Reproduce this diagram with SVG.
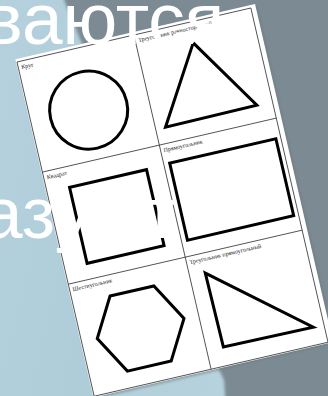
<svg xmlns="http://www.w3.org/2000/svg" width="328" height="396" viewBox="0 0 328 396">
<defs>
<linearGradient id="bgBlue" x1="0" y1="0" x2="1" y2="0.3">
<stop offset="0" stop-color="#b4d1dd"/>
<stop offset="0.5" stop-color="#afcdd9"/>
<stop offset="1" stop-color="#b9d4de"/>
</linearGradient>
<filter id="soft" x="-10%" y="-10%" width="120%" height="120%">
<feGaussianBlur stdDeviation="1.5"/>
</filter>
<filter id="shadow" x="-10%" y="-10%" width="120%" height="120%">
<feGaussianBlur stdDeviation="1.2"/>
</filter>
<style>
.paper{fill:#ffffff}
.grid{fill:none;stroke:#3a3a3a;stroke-width:0.8}
.shape{fill:none;stroke:#000000;stroke-width:3;stroke-linejoin:miter}
.lbl{font-family:"Liberation Serif","Times New Roman",serif;font-size:6px;fill:#222222}
.big{font-family:"Liberation Sans",Arial,sans-serif;font-size:73px;fill:#ffffff}
</style>
</defs>
<rect x="0" y="0" width="328" height="396" fill="url(#bgBlue)"/>
<polygon points="64,-10 340,-10 340,410 226,410 224,380 200,330 64,0" fill="#7b8b93" filter="url(#soft)"/>
<g id="paper" transform="translate(17,62) rotate(-13)">
<rect x="1" y="-1" width="246" height="347" fill="#6d7a80" opacity="0.5" filter="url(#shadow)"/>
<rect class="paper" x="-1" y="-3" width="246" height="347"/>
<g id="table">
<rect class="grid" x="0" y="0" width="240" height="343"/>
<line class="grid" x1="120" y1="0" x2="120" y2="343"/>
<line class="grid" x1="0" y1="113" x2="240" y2="113"/>
<line class="grid" x1="0" y1="228" x2="240" y2="228"/>
</g>
<g id="krug">
<text class="lbl" x="3" y="8">Круг</text>
<circle class="shape" cx="59" cy="63" r="39"/>
</g>
<g id="treugolnik-ravnostoronniy">
<text class="lbl" x="123" y="8">Треугольник равносторонний</text>
<polygon class="shape" points="176,21 130,97 224,96"/>
</g>
<g id="kvadrat">
<text class="lbl" x="3" y="121">Квадрат</text>
<rect class="shape" x="23" y="134" width="79" height="78"/>
</g>
<g id="pryamougolnik">
<text class="lbl" x="123" y="121">Прямоугольник</text>
<rect class="shape" x="126" y="133" width="109" height="79"/>
</g>
<g id="shestiugolnik">
<text class="lbl" x="3" y="236">Шестиугольник</text>
<polygon class="shape" points="38,249 83,249 105,287.5 83,326 38,326 16,287.5"/>
</g>
<g id="treugolnik-pryamougolnyy">
<text class="lbl" x="123" y="236">Треугольник прямоугольный</text>
<polygon class="shape" points="136,248 137,324 229,325"/>
</g>
</g>
<g id="overlay-text">
<text class="big" x="-16" y="44">ваются</text>
<text class="big" x="-18" y="238">азуют</text>
</g>
</svg>
